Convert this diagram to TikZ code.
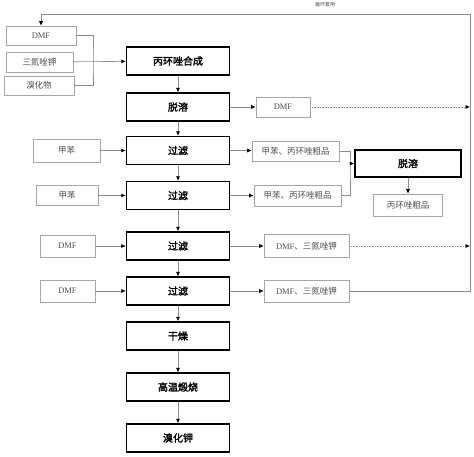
\documentclass[tikz,border=0pt]{standalone}
\usepackage{fontspec}
\setmainfont{Liberation Serif}
\newfontfamily\cjk{Noto Sans CJK SC}
\newfontfamily\cjkb{Noto Sans CJK SC}[FakeBold=2]
\usetikzlibrary{arrows.meta}
\definecolor{linegray}{HTML}{8C8C8C}
\definecolor{boxgray}{HTML}{A6A6A6}
\definecolor{textgray}{HTML}{4D4D4D}
\tikzstyle{stage} = [draw=black, line width=1.4pt, minimum width=103pt, minimum height=28pt, inner sep=0pt, font=\cjkb\fontsize{10}{10}\selectfont]
\tikzstyle{feed} = [draw=boxgray, line width=0.6pt, minimum height=20pt, inner sep=0pt, text=textgray, font=\cjk\fontsize{8.5}{9}\selectfont]
\tikzstyle{line} = [draw=linegray, line width=0.6pt]
\tikzstyle{flow} = [line, -{Latex[color=black,length=4.5pt,width=4pt]}]

\begin{document}
\begin{tikzpicture}[x=1pt,y=-1pt]
	\useasboundingbox (0,0) rectangle (474,456);
	% main line
	\node[stage] (synth) at (178,61) {丙环唑合成};
	\node[stage] (desolv) at (178,107) {脱溶};
	\node[stage] (filtA) at (178,150.5) {过滤};
	\node[stage] (filtB) at (178,195.5) {过滤};
	\node[stage] (filtC) at (178,246) {过滤};
	\node[stage] (filtD) at (178,291) {过滤};
	\node[stage] (dry) at (178,336) {干燥};
	\node[stage] (calc) at (178,387) {高温煅烧};
	\node[stage] (kbr) at (178,438) {溴化钾};
	% feeds
	\node[feed, minimum width=70pt, minimum height=19pt] (dmfIn) at (41,35.5) {\rmfamily DMF};
	\node[feed, minimum width=67pt] (trz) at (39.5,62) {三氮唑钾};
	\node[feed, minimum width=70pt, minimum height=19pt] (brom) at (39,85.5) {溴化物};
	\node[feed, minimum width=67pt, minimum height=23pt] (tolA) at (66.5,150.5) {甲苯};
	\node[feed, minimum width=62pt] (tolB) at (67,195.5) {甲苯};
	\node[feed, minimum width=55pt, minimum height=22pt] (dmfC) at (67.5,246) {\rmfamily DMF};
	\node[feed, minimum width=55pt, minimum height=22pt] (dmfD) at (67.5,291) {\rmfamily DMF};
	% products
	\node[feed, minimum width=54pt] (dmfOut) at (283,107) {\rmfamily DMF};
	\node[feed, minimum width=87pt] (crudeA) at (295.5,151) {甲苯、丙环唑粗品};
	\node[feed, minimum width=87pt, minimum height=21pt] (crudeB) at (297.5,195.5) {甲苯、丙环唑粗品};
	\node[stage, minimum width=106pt, minimum height=27pt] (desolvR) at (408,163.5) {脱溶};
	\node[feed, minimum width=69pt, minimum height=22pt] (crude) at (408,205) {丙环唑粗品};
	\node[feed, minimum width=85pt, minimum height=23pt] (mixC) at (306.5,246) {{\rmfamily DMF}、三氮唑钾};
	\node[feed, minimum width=85pt, minimum height=22pt] (mixD) at (306.5,291) {{\rmfamily DMF}、三氮唑钾};
	\node[text=textgray, font=\cjk\fontsize{5}{5}\selectfont] (recycle) at (325,5) {循环套用};
	\coordinate (joinIn) at (93,61);
	\coordinate (joinCr) at (350,163.5);
	\coordinate (ret) at (470,14);
	% connectors
	\draw[flow] (synth) -- (desolv);
	\draw[flow] (desolv) -- (filtA);
	\draw[flow] (filtA) -- (filtB);
	\draw[flow] (filtB) -- (filtC);
	\draw[flow] (filtC) -- (filtD);
	\draw[flow] (filtD) -- (dry);
	\draw[flow] (dry) -- (calc);
	\draw[flow] (calc) -- (kbr);
	\draw[line] (dmfIn.east) -| (joinIn) |- (brom.east);
	\draw[flow] (trz) -- (synth);
	\draw[flow] (tolA) -- (filtA);
	\draw[flow] (tolB) -- (filtB);
	\draw[flow] (dmfC) -- (filtC);
	\draw[flow] (dmfD) -- (filtD);
	\draw[flow] (desolv) -- (dmfOut);
	\draw[flow] (filtA.east) -- (crudeA.west |- filtA.east);
	\draw[flow] (filtB) -- (crudeB);
	\draw[flow] (filtC) -- (mixC);
	\draw[flow] (filtD) -- (mixD);
	\draw[line] (crudeA.east) -| (joinCr) |- (crudeB.east);
	\draw[flow] (joinCr) -- (desolvR);
	\draw[flow] (desolvR) -- (crude);
	\draw[flow, densely dotted] (dmfOut) -- (dmfOut -| ret);
	\draw[flow, densely dotted] (mixC) -- (mixC -| ret);
	\draw[flow] (mixD.east) -| (ret) -| (dmfIn.north);
\end{tikzpicture}
\end{document}
